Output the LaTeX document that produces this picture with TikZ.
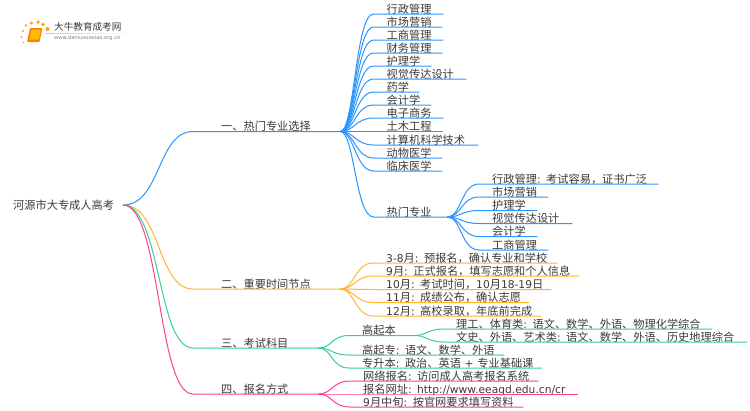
\documentclass[tikz,border=0pt]{standalone}
\usepackage{fontspec}
\setmainfont{Noto Sans CJK SC}
\newfontfamily\latinfont[Scale=0.955]{DejaVu Sans}
\newcommand\lt[1]{{\latinfont #1}}
\definecolor{cblue}{HTML}{2A96FF}
\definecolor{corange}{HTML}{FFB52E}
\definecolor{cgreen}{HTML}{38D08F}
\definecolor{cpink}{HTML}{FF3E8F}
\definecolor{ctext}{HTML}{3A3A3A}
\tikzset{
  lab/.style={inner sep=0pt,anchor=south west,align=left,text=ctext,font=\fontsize{11.2}{12}\selectfont,text height=9.5pt,text depth=0.7pt},
  conn/.style={line width=1pt},
  dotlogo/.style={fill=#1,draw=none,circle,inner sep=0pt,minimum size=3.5pt}
}
% name, colour, parent, text x, y, end x, text, ctrl
\newcommand\leafn[8]{%
  \node[lab,text width=\dimexpr#6pt-#4pt\relax] (#1) at (#4,#5) {#7};
  \draw[conn,#2] (#3) .. controls +(#8,0) and +(-#8-4,0) .. ([xshift=-13pt]#1.south west) -- (#1.south east);
}
\begin{document}
\begin{tikzpicture}[x=1pt,y=-1pt]
\useasboundingbox (0,0) rectangle (750,410);
\fill[white] (0,0) rectangle (750,410);
% logo
\foreach \i/\px/\py/\s in {1/26/25.5/2.8,2/31.5/23/3.4,3/38/22/3.6,4/43/24.5/3.8,5/47.5/29/4,6/23/31/2.4,7/21.5/37/2,8/23.5/42.5/1.8}{
  \node[dotlogo=orange!70!yellow,minimum size=\s pt] (dot\i) at (\px,\py) {};
}
\fill[orange,rounded corners=1pt] (30,28) -- (42.5,28) -- (39.5,42) -- (27,42) -- cycle;
\fill[orange!55!yellow,rounded corners=0.5pt] (31.5,29.5) -- (41,29.5) -- (38.8,39.5) -- (29.2,39.5) -- cycle;
\shade[left color=gray!45,right color=white,draw=none] (46,33) rectangle (133,33.5);
\node[inner sep=0pt,anchor=west,text=ctext,font=\fontsize{9.6}{11}\selectfont] (logot) at (54,27) {大牛教育成考网};
\node[inner sep=0pt,anchor=west,text=gray,font=\latinfont\fontsize{5.4}{6}\selectfont] (logou) at (54,38.5) {www.daniuxuexiao.org.cn};
% root
\node[lab,anchor=west] (root) at (13,205) {河源市大专成人高考};
\coordinate (rootc) at (123,205);
% level-one
\node[lab,text width=119pt] (a) at (221,131.5) {一、热门专业选择};
\node[lab,text width=119pt] (b) at (221,289) {二、重要时间节点};
\node[lab,text width=97pt] (c) at (221,348) {三、考试科目};
\node[lab,text width=97pt] (d) at (221,394) {四、报名方式};
\draw[conn,cblue] (rootc) .. controls +(38,0) and +(-36,0) .. ([xshift=-28pt]a.south west) -- (a.south east);
\draw[conn,corange] (rootc) .. controls +(38,0) and +(-36,0) .. ([xshift=-28pt]b.south west) -- (b.south east);
\draw[conn,cgreen] (rootc) .. controls +(38,0) and +(-36,0) .. ([xshift=-28pt]c.south west) -- (c.south east);
\draw[conn,cpink] (rootc) .. controls +(38,0) and +(-36,0) .. ([xshift=-28pt]d.south west) -- (d.south east);
% blue leaves
\leafn{a1}{cblue}{a.south east}{386.5}{14}{443}{行政管理}{14}
\leafn{a2}{cblue}{a.south east}{386.5}{27}{442}{市场营销}{14}
\leafn{a3}{cblue}{a.south east}{386.5}{40}{443}{工商管理}{14}
\leafn{a4}{cblue}{a.south east}{386.5}{53}{442}{财务管理}{14}
\leafn{a5}{cblue}{a.south east}{386.5}{66}{431}{护理学}{14}
\leafn{a6}{cblue}{a.south east}{386.5}{79}{466}{视觉传达设计}{14}
\leafn{a7}{cblue}{a.south east}{386.5}{92}{419}{药学}{14}
\leafn{a8}{cblue}{a.south east}{386.5}{105}{431}{会计学}{14}
\leafn{a9}{cblue}{a.south east}{386.5}{118}{443}{电子商务}{14}
\leafn{a10}{cblue}{a.south east}{386.5}{131.5}{443}{土木工程}{14}
\leafn{a11}{cblue}{a.south east}{386.5}{145}{478}{计算机科学技术}{14}
\leafn{a12}{cblue}{a.south east}{386.5}{158}{442}{动物医学}{14}
\leafn{a13}{cblue}{a.south east}{386.5}{171}{442}{临床医学}{14}
\leafn{hot}{cblue}{a.south east}{386.5}{217}{447}{热门专业}{14}
% hot children
\leafn{h1}{cblue}{hot.south east}{492}{184}{658}{行政管理\lt{: }考试容易，证书广泛}{14}
\leafn{h2}{cblue}{hot.south east}{492}{197}{548}{市场营销}{14}
\leafn{h3}{cblue}{hot.south east}{492}{210.5}{537}{护理学}{14}
\leafn{h4}{cblue}{hot.south east}{492}{223.5}{572}{视觉传达设计}{14}
\leafn{h5}{cblue}{hot.south east}{492}{236.5}{537}{会计学}{14}
\leafn{h6}{cblue}{hot.south east}{492}{250}{548}{工商管理}{14}
% orange
\leafn{b1}{corange}{b.south east}{386}{263}{557}{\lt{3-8}月\lt{: }预报名，确认专业和学校}{14}
\leafn{b2}{corange}{b.south east}{386}{276}{579}{\lt{9}月\lt{: }正式报名，填写志愿和个人信息}{14}
\leafn{b3}{corange}{b.south east}{386}{289.5}{551}{\lt{10}月\lt{: }考试时间，\lt{10}月\lt{18-19}日}{14}
\leafn{b4}{corange}{b.south east}{386}{302.5}{529}{\lt{11}月\lt{: }成绩公布，确认志愿}{14}
\leafn{b5}{corange}{b.south east}{386}{316}{541}{\lt{12}月\lt{: }高校录取，年底前完成}{14}
% green
\leafn{c1}{cgreen}{c.south east}{362}{335.5}{415}{高起本}{14}
\leafn{c2}{cgreen}{c.south east}{362}{355}{504}{高起专\lt{: }语文、数学、外语}{14}
\leafn{c3}{cgreen}{c.south east}{362}{368}{542}{专升本\lt{: }政治、英语\lt{ + }专业基础课}{14}
\leafn{c11}{cgreen}{c1.south east}{456}{329}{712}{理工、体育类\lt{: }语文、数学、外语、物理化学综合}{10}
\leafn{c12}{cgreen}{c1.south east}{456}{342}{747}{文史、外语、艺术类\lt{: }语文、数学、外语、历史地理综合}{10}
% pink
\leafn{d1}{cpink}{d.south east}{363}{381}{538}{网络报名\lt{: }访问成人高考报名系统}{14}
\leafn{d2}{cpink}{d.south east}{363}{394}{578}{报名网址\lt{: http://www.eeagd.edu.cn/cr}}{14}
\leafn{d3}{cpink}{d.south east}{363}{407}{523}{\lt{9}月中旬\lt{: }按官网要求填写资料}{14}
\end{tikzpicture}
\end{document}
